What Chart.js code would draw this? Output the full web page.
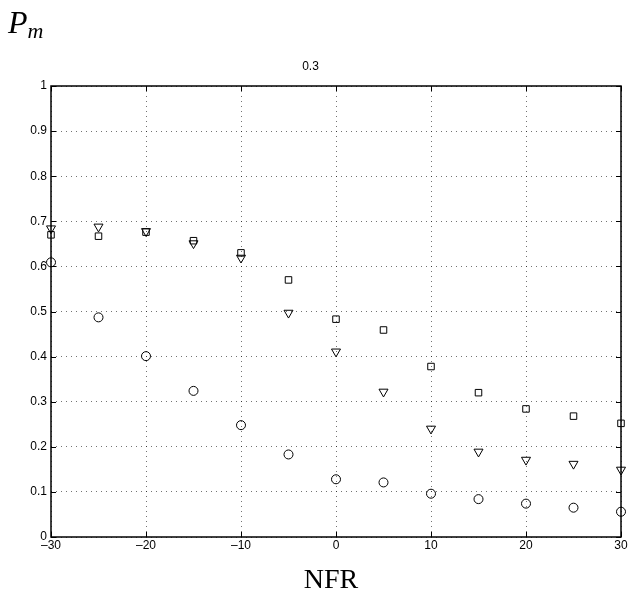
<!DOCTYPE html>
<html>
<head>
<meta charset="utf-8">
<script src="https://cdn.jsdelivr.net/npm/chart.js@4/dist/chart.umd.min.js"></script>
<style>
  html, body { margin: 0; padding: 0; background: #fff; }
  #wrap { position: relative; width: 629px; height: 595px; }
  #pm {
    position: absolute; left: 8px; top: 4px;
    font-family: "Liberation Serif", serif; font-style: italic; font-size: 32px;
    color: #000;
  }
  #pm sub { font-size: 22px; vertical-align: -5px; line-height: 0; }
  #nfr {
    position: absolute; left: 0; width: 662px; top: 563px;
    text-align: center; font-family: "Liberation Serif", serif; font-size: 28px; color: #000;
  }
</style>
</head>
<body>
<div id="wrap">
  <canvas id="chart" width="629" height="595"></canvas>
  <div id="pm">P<sub>m</sub></div>
  <div id="nfr">NFR</div>
</div>
<script>
// NFR values along the x axis
const nfr = [-30, -25, -20, -15, -10, -5, 0, 5, 10, 15, 20, 25, 30];

// three series
const circles   = [0.609, 0.487, 0.401, 0.324, 0.248, 0.183, 0.128, 0.121, 0.096, 0.084, 0.074, 0.065, 0.056];
const squares   = [0.670, 0.667, 0.676, 0.657, 0.630, 0.570, 0.483, 0.459, 0.378, 0.320, 0.284, 0.268, 0.252];
const triangles = [0.684, 0.688, 0.678, 0.651, 0.619, 0.497, 0.411, 0.322, 0.240, 0.189, 0.171, 0.162, 0.149];

const xTicks = [-30, -20, -10, 0, 10, 20, 30];
const xTickLabels = ["\u201330", "\u201320", "\u201310", "0", "10", "20", "30"];
const yTickLabels = ["0", "0.1", "0.2", "0.3", "0.4", "0.5", "0.6", "0.7", "0.8", "0.9", "1"];

function pts(vals) {
  return nfr.map((x, i) => ({ x: x, y: vals[i] }));
}

// box round the plot plus matlab style inward ticks
const boxPlugin = {
  id: "box",
  beforeDatasetsDraw(c) {
    const ctx = c.ctx;
    const a = c.chartArea;
    const xs = c.scales.x, ys = c.scales.y;
    ctx.save();
    ctx.strokeStyle = "#000";
    ctx.lineWidth = 1.5;
    ctx.strokeRect(a.left, a.top, a.right - a.left, a.bottom - a.top);
    ctx.lineWidth = 1;
    ctx.beginPath();
    xTicks.forEach(v => {
      const px = Math.round(xs.getPixelForValue(v)) + 0.5;
      ctx.moveTo(px, a.bottom); ctx.lineTo(px, a.bottom - 5);
      ctx.moveTo(px, a.top); ctx.lineTo(px, a.top + 5);
    });
    yTickLabels.forEach((l, i) => {
      const py = Math.round(ys.getPixelForValue(i / 10)) + 0.5;
      ctx.moveTo(a.left, py); ctx.lineTo(a.left + 5, py);
      ctx.moveTo(a.right, py); ctx.lineTo(a.right - 5, py);
    });
    ctx.stroke();
    ctx.restore();
  }
};

const common = {
  showLine: false,
  clip: false,
  backgroundColor: "rgba(0,0,0,0)",
  borderColor: "#000",
  borderWidth: 1,
  pointBackgroundColor: "rgba(0,0,0,0)",
  pointBorderColor: "#000",
  pointBorderWidth: 1
};

new Chart(document.getElementById("chart"), {
  type: "scatter",
  data: {
    datasets: [
      Object.assign({ label: "circles", data: pts(circles), pointStyle: "circle", pointRadius: 4.5 }, common),
      Object.assign({ label: "squares", data: pts(squares), pointStyle: "rect", pointRadius: 4.6 }, common),
      Object.assign({ label: "triangles", data: pts(triangles), pointStyle: "triangle", pointRadius: 5.2, rotation: 180 }, common)
    ]
  },
  options: {
    responsive: false,
    animation: false,
    layout: { padding: { left: 0, right: 8, top: 0, bottom: 0 } },
    plugins: {
      legend: { display: false },
      tooltip: { enabled: false },
      title: {
        display: true,
        text: "0.3",
        color: "#000",
        font: { family: "Liberation Sans", size: 12, weight: "normal" },
        padding: { top: 59, bottom: 12.6 }
      }
    },
    scales: {
      x: {
        type: "linear",
        min: -30, max: 30,
        afterBuildTicks: s => { s.ticks = xTicks.map(v => ({ value: v })); },
        afterFit: s => { s.height = 58; },
        ticks: {
          color: "#000",
          font: { family: "Liberation Sans", size: 12 },
          padding: 1,
          maxRotation: 0,
          callback: v => xTickLabels[xTicks.indexOf(v)]
        },
        grid: {
          color: "rgba(0,0,0,0.55)",
          lineWidth: 1,
          drawTicks: false
        },
        border: { display: false, dash: [1, 4] }
      },
      y: {
        min: 0, max: 1,
        afterBuildTicks: s => { s.ticks = yTickLabels.map((l, i) => ({ value: i / 10 })); },
        afterFit: s => { s.width = 51; },
        ticks: {
          color: "#000",
          font: { family: "Liberation Sans", size: 12 },
          padding: 4,
          callback: (v, i) => yTickLabels[i]
        },
        grid: {
          color: "rgba(0,0,0,0.55)",
          lineWidth: 1,
          drawTicks: false
        },
        border: { display: false, dash: [1, 4] }
      }
    }
  },
  plugins: [boxPlugin]
});
</script>
</body>
</html>
